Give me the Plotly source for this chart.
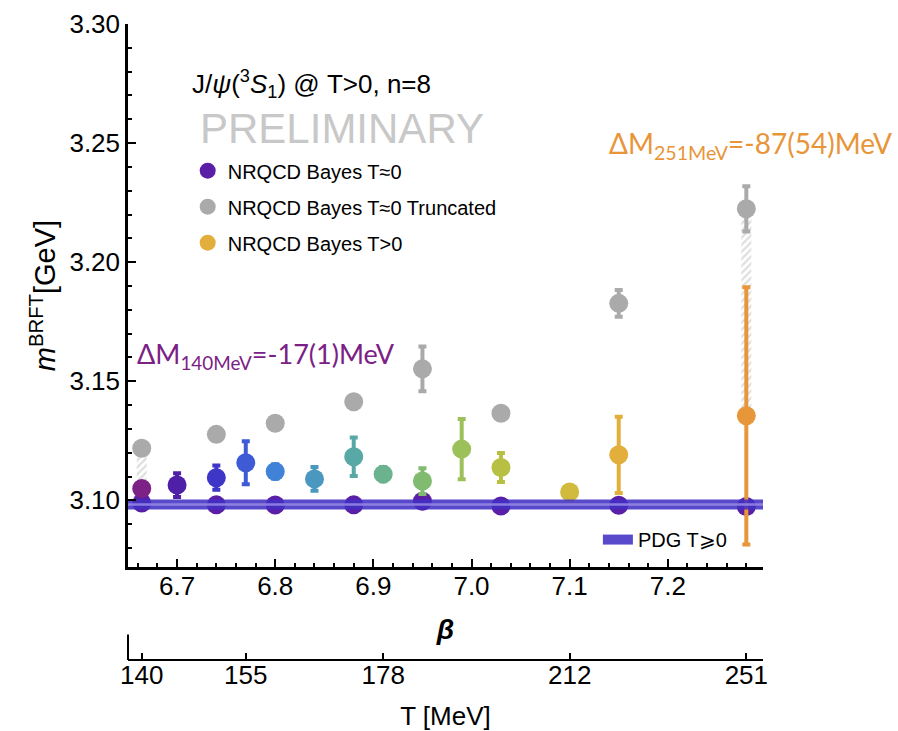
import plotly.graph_objects as go

# --- data ---------------------------------------------------------------
beta_zero = [6.664, 6.740, 6.800, 6.880, 6.950, 7.030, 7.150, 7.280]
mass_zero = [3.0989, 3.0981, 3.0980, 3.0981, 3.0996, 3.0976, 3.0979, 3.0974]

mass_trunc = [3.1219, 3.1277, 3.1324, 3.1414, 3.1552, 3.1366, 3.1827, 3.2224]
err_trunc = [0.0, 0.0, 0.0, 0.0, 0.0094, 0.0, 0.0056, 0.0095]

beta_T = [6.664, 6.700, 6.740, 6.770, 6.800, 6.840, 6.880,
          6.910, 6.950, 6.990, 7.030, 7.100, 7.150, 7.280]
mass_T = [3.1050, 3.1064, 3.1095, 3.1158, 3.1121, 3.1090, 3.1183,
          3.1110, 3.1081, 3.1215, 3.1138, 3.1035, 3.1191, 3.1355]
err_T = [0.001, 0.005, 0.0051, 0.0090, 0.003, 0.005, 0.0081,
         0.003, 0.0054, 0.0126, 0.0061, 0.002, 0.016, 0.054]
colors_T = ["#7d2187", "#4f1fa8", "#3e36c6", "#3e5ad5", "#3f82d7", "#4a97c0", "#58a8a6",
            "#6bb38e", "#80bb70", "#9dc15a", "#b8c044", "#d1ba3c", "#e2ae3c", "#e8963a"]

# beta positions of the temperature axis ticks
temp_beta = [6.664, 6.770, 6.910, 7.100, 7.280]
temp_labels = ["140", "155", "178", "212", "251"]

PDG_MASS = 3.0983
BETA_RANGE = [6.65, 7.297]
MASS_RANGE = [3.072, 3.30]

# gap between truncated T~0 and T>0 masses at lowest / highest temperature
shift_idx_zero = [0, 7]
shift_idx_T = [0, 13]

FONT = "Liberation Sans, Arial, sans-serif"
LABEL_FONT = "Lato, Open Sans, sans-serif"

fig = go.Figure()

# hatched fillings between truncated and finite-temperature masses
fig.add_trace(go.Bar(
    x=[beta_zero[i] for i in shift_idx_zero],
    base=[mass_T[j] for j in shift_idx_T],
    y=[mass_trunc[i] - mass_T[j] for i, j in zip(shift_idx_zero, shift_idx_T)],
    width=0.0102,
    marker=dict(color="rgba(255,255,255,0)", line=dict(width=0),
                pattern=dict(shape="/", fgcolor="#bdbdbd", bgcolor="rgba(255,255,255,0)",
                             size=5, solidity=0.45)),
    showlegend=False, hoverinfo="skip",
))

# T ~ 0 reference masses
fig.add_trace(go.Scatter(
    x=beta_zero, y=mass_zero, mode="markers", name="NRQCD Bayes T≈0",
    marker=dict(size=19, color="#5a1fa6"), legendrank=1, legendgroup="zero",
))

# T ~ 0 truncated
fig.add_trace(go.Scatter(
    x=beta_zero, y=mass_trunc, mode="markers", name="NRQCD Bayes T≈0 Truncated",
    marker=dict(size=19, color="#aaaaaa"),
    error_y=dict(type="data", array=err_trunc, color="#aaaaaa", thickness=4, width=4),
    legendrank=2, legendgroup="trunc",
))

# finite temperature, one colour per beta
for k, (b, m, e, c) in enumerate(zip(beta_T, mass_T, err_T, colors_T)):
    fig.add_trace(go.Scatter(
        x=[b], y=[m], mode="markers", name="NRQCD Bayes T>0",
        marker=dict(size=19, color=c),
        error_y=dict(type="data", array=[e], color=c, thickness=4, width=4),
        legendgroup="finite", legendrank=3, showlegend=(k == 12),
    ))

# PDG band
fig.add_trace(go.Scatter(
    x=BETA_RANGE, y=[PDG_MASS, PDG_MASS], mode="lines", name="PDG T⩾0",
    line=dict(color="rgba(66,48,196,0.88)", width=10), legend="legend2",
))
fig.add_trace(go.Scatter(
    x=BETA_RANGE, y=[PDG_MASS, PDG_MASS], mode="lines",
    line=dict(color="rgba(150,138,228,0.85)", width=2.5),
    showlegend=False, hoverinfo="skip",
))

# temperature scale, attached to the secondary x axis
fig.add_trace(go.Scatter(
    x=temp_beta, y=[None] * len(temp_beta), xaxis="x2", mode="markers",
    showlegend=False, hoverinfo="skip",
))

# --- text -----------------------------------------------------------------
fig.add_annotation(
    xref="paper", yref="paper", x=0.097, y=0.906, xanchor="left", yanchor="middle",
    text="J/<i>ψ</i>(<sup>3</sup><i>S</i><sub>1</sub>) @ T&gt;0, n=8",
    showarrow=False, font=dict(family=FONT, size=26, color="black"),
)
fig.add_annotation(
    xref="paper", yref="paper", x=0.337, y=0.836, xanchor="center", yanchor="middle",
    text="PRELIMINARY", showarrow=False,
    font=dict(family=FONT, size=42, color="#c8c8c8"),
)
fig.add_annotation(
    x=6.657, y=3.161, xanchor="left", yanchor="middle",
    text="ΔM<sub>140MeV</sub>=-17(1)MeV", showarrow=False,
    font=dict(family=LABEL_FONT, size=27, color="#7b2185"),
)
fig.add_annotation(
    x=7.138, y=3.249, xanchor="left", yanchor="middle",
    text="ΔM<sub>251MeV</sub>=-87(54)MeV", showarrow=False,
    font=dict(family=LABEL_FONT, size=28, color="#e8953a"),
)

# left edge of the temperature axis frame
fig.add_shape(type="line", xref="paper", yref="paper", x0=0, x1=0, y0=0, y1=0.04,
              line=dict(color="black", width=2))

tick_font = dict(family=FONT, size=26, color="black")
fig.update_layout(
    width=898, height=731,
    margin=dict(l=128, r=135, t=24, b=71, autoexpand=False),
    paper_bgcolor="white", plot_bgcolor="white",
    barmode="overlay",
    font=dict(family=FONT, color="black"),
    xaxis=dict(
        range=BETA_RANGE, anchor="y", showgrid=False, zeroline=False, automargin=False,
        showline=True, linecolor="black", linewidth=2.5,
        ticks="inside", ticklen=8, tickwidth=2, tickcolor="black", ticklabelstandoff=-6,
        tick0=6.7, dtick=0.1, tickformat=".1f", tickfont=tick_font,
        minor=dict(dtick=0.02, ticks="inside", ticklen=4, tickwidth=1.5, tickcolor="black"),
        title=dict(text="<b><i>β</i></b>", font=dict(family=FONT, size=28), standoff=20),
    ),
    xaxis2=dict(
        range=BETA_RANGE, overlaying="x", anchor="free", position=0, side="bottom",
        automargin=False,
        showgrid=False, zeroline=False, showline=True, linecolor="black", linewidth=2,
        ticks="inside", ticklen=6, tickwidth=2, tickcolor="black", ticklabelstandoff=-8,
        tickmode="array", tickvals=temp_beta, ticktext=temp_labels, tickfont=tick_font,
        title=dict(text="T [MeV]", font=dict(family=FONT, size=26), standoff=18),
    ),
    yaxis=dict(
        range=MASS_RANGE, domain=[0.1462, 1], showgrid=False, zeroline=False,
        automargin=False,
        showline=True, linecolor="black", linewidth=2.5,
        ticks="inside", ticklen=8, tickwidth=2, tickcolor="black",
        tick0=3.10, dtick=0.05, tickformat=".2f", tickfont=tick_font,
        minor=dict(dtick=0.01, ticks="inside", ticklen=4, tickwidth=1.5, tickcolor="black"),
        title=dict(text="<i>m</i><sup>BRFT</sup>[GeV]", font=dict(family=FONT, size=29), standoff=6),
    ),
    legend=dict(
        x=0.094, y=0.80, xanchor="left", yanchor="top", bgcolor="rgba(0,0,0,0)",
        font=dict(family=FONT, size=20, color="black"), tracegroupgap=7,
        traceorder="grouped",
    ),
    legend2=dict(
        x=0.74, y=0.22, xanchor="left", yanchor="top", bgcolor="rgba(0,0,0,0)",
        font=dict(family=FONT, size=20, color="black"),
    ),
)

fig.write_html("out.html")
